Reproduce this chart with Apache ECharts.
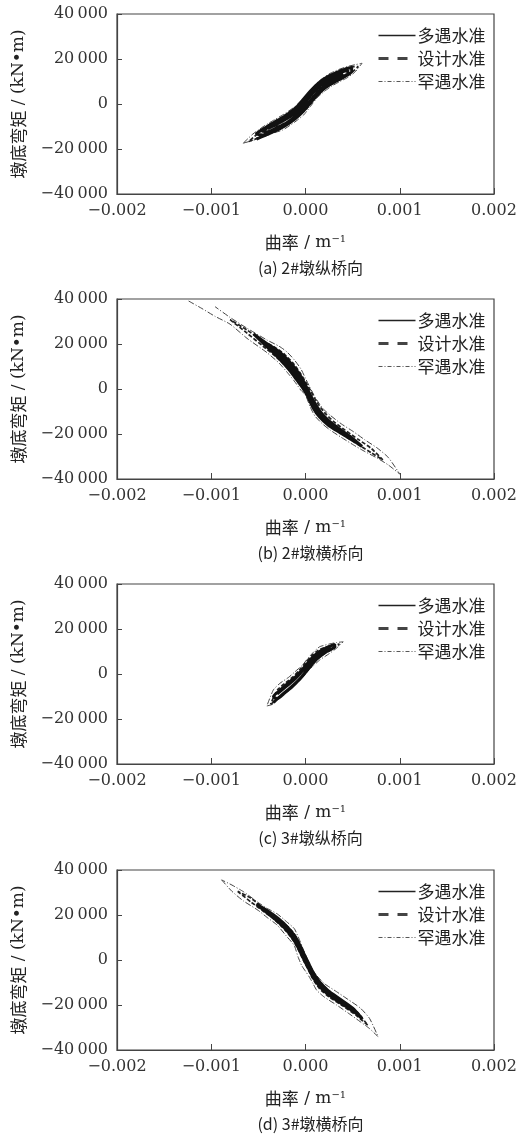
<!DOCTYPE html>
<html>
<head>
<meta charset="utf-8">
<script src="https://cdn.jsdelivr.net/npm/echarts@6/dist/echarts.min.js"></script>
<style>
    html, body { margin: 0; padding: 0; background: #fff; }
    #chart { width: 521px; height: 1136px; }
</style>
</head>
<body>
<div id="chart"></div>
<script>
// LEVEL NAMES / CAPTIONS / TICKS
const levelNames = ['多遇水准', '设计水准', '罕遇水准'];
const captions = ['(a) 2#墩纵桥向', '(b) 2#墩横桥向', '(c) 3#墩纵桥向', '(d) 3#墩横桥向'];
const xTicks = [-0.002, -0.001, 0, 0.001, 0.002];
const yTicks = [-40000, -20000, 0, 20000, 40000];

// DATA: [curvature x 1e-3 (1/m), moment (kN·m)]
// (a) 2# longitudinal
const aFrequent = [
    [-0.52,-15600],[-0.42,-13800],[-0.32,-12000],[-0.22,-9800],[-0.11,-6600],[-0.02,-3100],[0.06,900],[0.14,4600],[0.22,7500],[0.31,9800],[0.40,11800],[0.49,14300],
    [0.49,16200],[0.40,15200],[0.31,13600],[0.22,11800],[0.14,9400],[0.06,6100],[-0.02,2200],[-0.11,-2100],[-0.22,-5400],[-0.32,-7900],[-0.42,-10400],[-0.52,-13200],
    [-0.46,-13800],[-0.36,-12000],[-0.26,-10000],[-0.15,-7200],[-0.05,-3600],[0.03,200],[0.10,3800],[0.18,7000],[0.27,9600],[0.36,11600],[0.45,13500],
    [0.45,15000],[0.36,13900],[0.27,12300],[0.18,10200],[0.10,7100],[0.03,3400],[-0.05,-800],[-0.15,-4600],[-0.26,-7400],[-0.36,-9800],[-0.46,-12000],
    [-0.40,-12300],[-0.30,-10400],[-0.20,-8300],[-0.09,-5000],[0.00,-1000],[0.08,2900],[0.16,6600],[0.25,9600],[0.34,11800],[0.40,13300],
    [0.34,12500],[0.25,10900],[0.16,8400],[0.08,5000],[0.00,1000],[-0.09,-3300],[-0.20,-6600],[-0.30,-8900],[-0.40,-11000]
];
const aDesign = [
    [-0.60,-16600],[-0.50,-15000],[-0.40,-13300],[-0.30,-11600],[-0.18,-8800],[-0.07,-5200],[0.02,-1600],[0.10,2600],[0.18,6000],[0.27,8900],[0.37,11000],[0.47,13300],[0.56,16600],
    [0.48,16500],[0.38,15200],[0.28,13300],[0.19,10900],[0.11,7800],[0.03,4200],[-0.06,200],[-0.16,-3400],[-0.28,-6600],[-0.40,-9600],[-0.50,-12900],[-0.60,-16600]
];
const aRare = [
    [-0.66,-17400],[-0.56,-16200],[-0.45,-14600],[-0.35,-13000],[-0.24,-11500],[-0.12,-8200],[-0.02,-4900],[0.05,-1200],[0.12,2600],[0.20,5600],[0.28,8000],[0.36,9900],[0.44,11600],[0.52,14000],[0.60,18100],
    [0.53,17500],[0.44,16600],[0.35,15300],[0.26,13600],[0.19,11700],[0.12,9300],[0.05,6100],[-0.02,2600],[-0.12,-1400],[-0.24,-4800],[-0.35,-7500],[-0.45,-10100],[-0.56,-13400],[-0.66,-17400]
];

// (b) 2# transverse
const bFrequent = [
    [-0.55,24500],[-0.42,19200],[-0.32,15300],[-0.24,11800],[-0.16,7900],[-0.09,3900],[-0.03,500],[0.02,-3000],[0.08,-8300],[0.15,-12500],[0.24,-16000],[0.35,-19000],[0.48,-22300],[0.60,-25500],
    [0.48,-21300],[0.35,-17400],[0.24,-13800],[0.15,-9800],[0.08,-5200],[0.02,-400],[-0.03,3400],[-0.09,7600],[-0.16,11600],[-0.24,15200],[-0.32,17800],[-0.42,20500],[-0.55,24500],
    [-0.48,22000],[-0.36,17700],[-0.27,14000],[-0.19,10300],[-0.11,6300],[-0.05,2700],[0.00,-900],[0.05,-5300],[0.11,-9800],[0.19,-13700],[0.29,-17000],[0.41,-20300],[0.52,-23300],
    [0.41,-19700],[0.29,-16100],[0.19,-12200],[0.11,-8000],[0.05,-3200],[0.00,1300],[-0.05,5100],[-0.11,8900],[-0.19,12800],[-0.27,15700],[-0.36,18600],[-0.48,22000],
    [-0.40,19800],[-0.30,16200],[-0.21,12300],[-0.13,8400],[-0.06,4500],[-0.01,800],[0.04,-3500],[0.10,-8200],[0.17,-12000],[0.26,-15400],[0.36,-18500],[0.44,-21000],
    [0.36,-18000],[0.26,-14600],[0.17,-10700],[0.10,-6300],[0.04,-1700],[-0.01,2600],[-0.06,6300],[-0.13,10200],[-0.21,13700],[-0.30,16800],[-0.40,19800]
];
const bDesign = [
    [-0.80,30800],[-0.62,24800],[-0.45,19000],[-0.32,14600],[-0.22,10500],[-0.13,6300],[-0.06,2200],[0.00,-800],[0.06,-6000],[0.12,-10500],[0.20,-14400],[0.30,-17500],[0.42,-21000],[0.56,-24700],[0.70,-28400],[0.82,-31500],
    [0.70,-26500],[0.56,-22400],[0.42,-18300],[0.30,-14500],[0.20,-10400],[0.12,-5800],[0.06,-1200],[0.00,3200],[-0.06,7300],[-0.13,11400],[-0.22,15300],[-0.32,18400],[-0.45,21300],[-0.62,26200],[-0.80,30800]
];
const bRare = [
    [-1.24,39100],[-1.10,35800],[-0.96,32300],[-0.80,28800],[-0.62,22500],[-0.41,16200],[-0.28,11500],[-0.20,7700],[-0.12,3600],[-0.05,-500],[0.00,-2700],[0.05,-8000],[0.10,-12000],[0.18,-15500],[0.26,-18200],[0.38,-21500],[0.51,-24900],[0.63,-27800],[0.76,-30700],[0.88,-33800],[1.00,-37800],
    [0.88,-30500],[0.76,-26200],[0.63,-22600],[0.51,-19000],[0.38,-15500],[0.26,-11600],[0.18,-8500],[0.10,-3500],[0.05,500],[0.00,4700],[-0.05,9000],[-0.12,13000],[-0.20,16600],[-0.28,19000],[-0.41,21800],[-0.62,27000],[-0.80,31800],[-0.96,36600]
];

// (c) 3# longitudinal
const cFrequent = [
    [-0.34,-12600],[-0.26,-9600],[-0.18,-6800],[-0.10,-3800],[-0.04,-1200],[0.02,1900],[0.08,4900],[0.15,7800],[0.23,10100],[0.31,12000],
    [0.31,13200],[0.23,11800],[0.15,10000],[0.08,7600],[0.02,4700],[-0.04,1700],[-0.10,-1000],[-0.18,-3900],[-0.26,-6800],[-0.34,-10000],
    [-0.30,-11000],[-0.22,-8400],[-0.14,-5600],[-0.07,-2700],[-0.01,200],[0.05,3300],[0.11,6300],[0.19,9000],[0.27,11200],
    [0.19,10400],[0.11,8100],[0.05,5300],[-0.01,2400],[-0.07,-400],[-0.14,-3300],[-0.22,-6000],[-0.30,-8800]
];
const cDesign = [
    [-0.37,-13500],[-0.29,-10800],[-0.21,-8000],[-0.13,-5200],[-0.06,-2500],[0.00,400],[0.06,3600],[0.13,6800],[0.21,9300],[0.29,11300],[0.36,13300],
    [0.29,12900],[0.21,11900],[0.13,10400],[0.06,7900],[0.00,5000],[-0.06,2000],[-0.13,-1200],[-0.21,-3900],[-0.29,-6700],[-0.33,-9500],[-0.37,-13500]
];
const cRare = [
    [-0.41,-14200],[-0.34,-13300],[-0.27,-10100],[-0.18,-7500],[-0.09,-4100],[-0.03,-1500],[0.01,1000],[0.08,3500],[0.15,6200],[0.25,9000],[0.33,11500],[0.40,14300],
    [0.33,14000],[0.25,13300],[0.15,12100],[0.08,9500],[0.01,6200],[-0.03,4000],[-0.09,1800],[-0.18,-1500],[-0.27,-4100],[-0.34,-7000],[-0.41,-14200]
];

// (d) 3# transverse
const dFrequent = [
    [-0.52,24800],[-0.40,20800],[-0.29,17200],[-0.19,12800],[-0.11,8000],[-0.06,4000],[-0.02,500],[0.03,-3600],[0.08,-7700],[0.15,-11800],[0.24,-15300],[0.36,-18600],[0.50,-22600],[0.60,-26000],
    [0.50,-21400],[0.36,-17200],[0.24,-13600],[0.15,-9800],[0.08,-5400],[0.03,-1200],[-0.02,3000],[-0.06,6600],[-0.11,10400],[-0.19,14600],[-0.29,18500],[-0.40,21800],[-0.52,24800],
    [-0.45,22400],[-0.34,18700],[-0.24,15000],[-0.15,10600],[-0.09,6500],[-0.04,2600],[0.00,-1000],[0.05,-5300],[0.11,-9500],[0.19,-13500],[0.30,-17000],[0.43,-20700],
    [0.30,-16100],[0.19,-12200],[0.11,-7800],[0.05,-3300],[0.00,1000],[-0.04,4800],[-0.09,8600],[-0.15,12400],[-0.24,16300],[-0.34,19700],[-0.45,22400]
];
const dDesign = [
    [-0.72,30500],[-0.58,25800],[-0.45,21800],[-0.33,18000],[-0.22,13500],[-0.13,8800],[-0.07,4200],[-0.02,-300],[0.03,-4300],[0.08,-8500],[0.15,-12800],[0.26,-16700],[0.40,-20500],[0.55,-25000],[0.66,-29000],
    [0.55,-23200],[0.40,-18300],[0.26,-14300],[0.15,-9600],[0.08,-5000],[0.03,-1000],[-0.02,3700],[-0.07,8000],[-0.13,12200],[-0.22,16000],[-0.33,19600],[-0.45,23200],[-0.58,27500],[-0.72,30500]
];
const dRare = [
    [-0.89,35600],[-0.78,30500],[-0.66,26300],[-0.50,22000],[-0.41,19000],[-0.30,15500],[-0.20,10500],[-0.12,6500],[-0.08,1500],[-0.04,-2500],[0.00,-5000],[0.04,-7500],[0.08,-10500],[0.12,-13500],[0.20,-16500],[0.33,-20000],[0.45,-23500],[0.58,-27400],[0.68,-30500],[0.77,-34100],
    [0.68,-26000],[0.58,-21300],[0.45,-17500],[0.33,-14100],[0.20,-10500],[0.12,-7000],[0.08,-5000],[0.04,-2000],[0.00,2000],[-0.04,6500],[-0.08,10500],[-0.12,14000],[-0.20,17000],[-0.30,20500],[-0.41,23000],[-0.50,25500],[-0.66,30400],[-0.78,33300],[-0.89,35600]
];

const panels = [
    [aFrequent, aDesign, aRare],
    [bFrequent, bDesign, bRare],
    [cFrequent, cDesign, cRare],
    [dFrequent, dDesign, dRare]
];

// LAYOUT / STYLE
const gridTops = [14, 299, 584, 870];
const gridLeft = 117;
const gridWidth = 377;
const gridHeight = 180;
const numFont = 'DejaVu Serif';
const cjkFont = 'Noto Sans CJK SC';
const textColor = '#222';

const levelLines = [
    { color: '#111', width: 3, type: 'solid' },
    { color: '#222', width: 1.7, type: [4, 2] },
    { color: '#444', width: 1, type: [6, 2, 1, 2] }
];
const legendLines = [
    { color: '#222', width: 1.6, type: 'solid' },
    { color: '#444', width: 3, type: [10, 9] },
    { color: '#555', width: 1, type: [4, 2, 1, 2] }
];

const signed = (text, negative) => (negative ? '\u2212' : '') + text;

const formatCurvature = function (value) {
    return signed(Math.abs(value).toFixed(3), value < 0);
};
const formatMoment = function (value) {
    const abs = Math.abs(value);
    const text = abs >= 1000
        ? Math.floor(abs / 1000) + '\u2009' + String(abs % 1000).padStart(3, '0')
        : String(abs);
    return signed(text, value < 0);
};

const chart = echarts.init(document.getElementById('chart'), null, { renderer: 'canvas' });

const grid = [];
const xAxis = [];
const yAxis = [];
const series = [];
const legend = [];
const title = [];

gridTops.forEach((top, i) => {
    grid.push({
        left: gridLeft,
        top: top,
        width: gridWidth,
        height: gridHeight,
        show: true,
        borderColor: '#444',
        borderWidth: 1.2,
        backgroundColor: 'transparent'
    });

    xAxis.push({
        gridIndex: i,
        type: 'value',
        min: xTicks[0],
        max: xTicks[xTicks.length - 1],
        interval: 0.001,
        name: '曲率{l| / m}{sup|\u22121}',
        nameLocation: 'middle',
        nameGap: 40,
        nameTextStyle: {
            fontFamily: cjkFont,
            fontSize: 17,
            color: textColor,
            rich: {
                l: { fontSize: 17, fontFamily: numFont, color: textColor },
                sup: { fontSize: 10, fontFamily: numFont, verticalAlign: 'top', color: textColor }
            }
        },
        axisLine: { show: true, onZero: false, lineStyle: { color: '#444', width: 1.2 } },
        axisTick: { show: true, inside: true, length: 6, lineStyle: { color: '#444' } },
        splitLine: { show: false },
        axisLabel: {
            fontFamily: numFont,
            fontSize: 16,
            color: '#333',
            margin: 9,
            formatter: formatCurvature
        }
    });

    yAxis.push({
        gridIndex: i,
        type: 'value',
        min: yTicks[0],
        max: yTicks[yTicks.length - 1],
        interval: 20000,
        name: '墩底弯矩{l| / (kN\u2022m)}',
        nameLocation: 'middle',
        nameGap: 90,
        nameTextStyle: {
            fontFamily: cjkFont,
            fontSize: 17,
            color: textColor,
            rich: {
                l: { fontSize: 17, fontFamily: numFont, color: textColor }
            }
        },
        axisLine: { show: true, onZero: false, lineStyle: { color: '#444', width: 1.2 } },
        axisTick: { show: true, inside: true, length: 5, lineStyle: { color: '#444' } },
        splitLine: { show: false },
        axisLabel: {
            fontFamily: numFont,
            fontSize: 16,
            color: '#333',
            margin: 9,
            formatter: formatMoment
        }
    });

    panels[i].forEach((points, level) => {
        series.push({
            name: levelNames[level],
            type: 'line',
            xAxisIndex: i,
            yAxisIndex: i,
            symbol: 'none',
            smooth: 0.2,
            z: 3 - level,
            color: levelLines[level].color,
            lineStyle: levelLines[level],
            data: points.map(p => [p[0] / 1000, p[1]])
        });
    });

    legend.push({
        orient: 'vertical',
        left: 372,
        top: top + 8,
        itemWidth: 37,
        itemHeight: 14,
        itemGap: 6,
        selectedMode: false,
        textStyle: { fontFamily: cjkFont, fontSize: 17, color: textColor, padding: [0, 0, 0, -3] },
        data: levelNames.map((name, level) => ({
            name: name,
            lineStyle: legendLines[level],
            itemStyle: { opacity: 0 }
        }))
    });

    title.push({
        text: captions[i],
        left: gridLeft + gridWidth / 2,
        textAlign: 'center',
        top: top + 241,
        textStyle: { fontFamily: cjkFont, fontSize: 16, fontWeight: 'normal', color: textColor }
    });
});

const option = {
    animation: false,
    backgroundColor: '#fff',
    title: title,
    legend: legend,
    grid: grid,
    xAxis: xAxis,
    yAxis: yAxis,
    series: series
};

chart.setOption(option);
</script>
</body>
</html>
